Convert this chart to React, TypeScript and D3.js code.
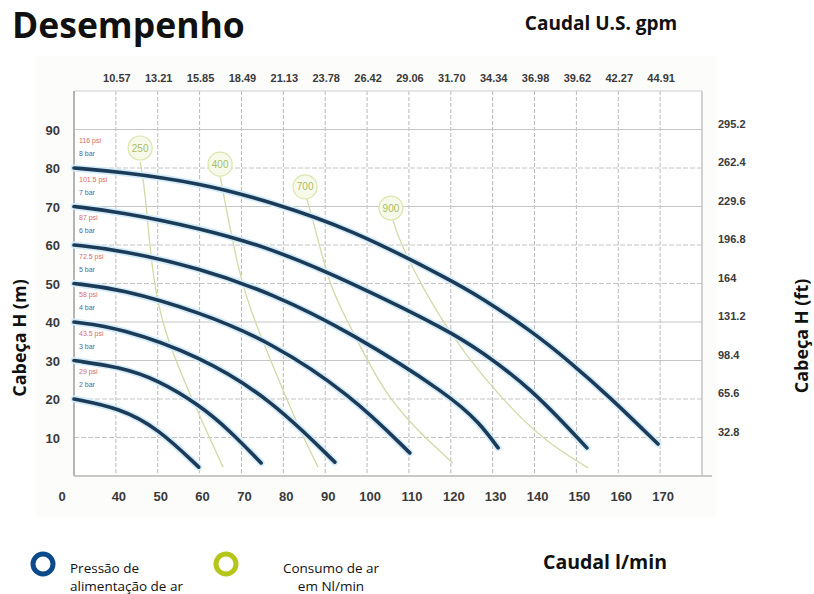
import * as d3 from "d3";
import { useRef, useEffect } from "react";

// flow (l/min) grid + labels
const flowTicks = [40, 50, 60, 70, 80, 90, 100, 110, 120, 130, 140, 150, 160, 170];
const gpmLabels = ["10.57", "13.21", "15.85", "18.49", "21.13", "23.78", "26.42", "29.06", "31.70", "34.34", "36.98", "39.62", "42.27", "44.91"];
const headTicks = [10, 20, 30, 40, 50, 60, 70, 80, 90];
const ftLabels = ["32.8", "65.6", "98.4", "131.2", "164", "196.8", "229.6", "262.4", "295.2"];
const dashedHeads = [10, 20, 50, 60, 80];

// pressure curves [flow, head]
const bar2 = [[30, 20], [41, 17.6], [50, 12.4], [59.8, 2.3]];
const bar3 = [[30, 30], [41, 28.3], [50, 25], [60, 18.4], [67, 12], [74.7, 3.4]];
const bar4 = [[30, 40], [41, 38.5], [60, 31.2], [77, 20], [92.3, 3.6]];
const bar5 = [[30, 50], [41, 48.6], [60, 42.6], [77, 34.8], [96, 21.2], [110.2, 6]];
const bar6 = [[30, 60], [41, 58.7], [60, 54], [77, 47.5], [96, 37.4], [120, 20.8], [127, 13.6], [131.3, 7.3]];
const bar7 = [[30, 70], [41, 68.6], [60, 64.4], [77, 59.2], [96, 50.4], [120, 37.5], [127, 32.5], [139, 23], [152.5, 7.3]];
const bar8 = [[30, 80], [41, 79], [60, 76.1], [77, 71.2], [96, 64.2], [120, 50.9], [127, 46.5], [139, 37.9], [148.5, 29.6], [158, 20.5], [169.5, 8.3]];
const barCurves = [bar2, bar3, bar4, bar5, bar6, bar7, bar8];
const barNames = ["2 bar", "3 bar", "4 bar", "5 bar", "6 bar", "7 bar", "8 bar"];
const psiNames = ["29 psi", "43.5 psi", "58 psi", "72.5 psi", "87 psi", "101.5 psi", "116 psi"];

// air consumption curves
const air250 = [[45.8, 81.6], [47, 74.3], [48.6, 52.7], [51.3, 37.9], [57.7, 21], [65.6, 2.3]];
const air400 = [[64.9, 77.9], [69.6, 50.9], [73.7, 38.7], [79.9, 22.3], [84, 11.9], [88.3, 2.3]];
const air700 = [[85.6, 72], [87.1, 66.5], [91.1, 49.1], [95.2, 40.5], [100, 30.1], [105.5, 19.7], [112.6, 11.2], [120.5, 3.4]];
const air900 = [[106.2, 66.5], [107.1, 63.1], [110.2, 55.3], [116.7, 42.3], [123.9, 30.9], [132.5, 19.7], [142, 9.4], [152.8, 2.1]];
const airCurves = [air250, air400, air700, air900];
const airNames = ["250", "400", "700", "900"];
const airLabelFlow = [45.8, 64.9, 85.2, 105.7];
const airLabelHead = [85.2, 81, 75.1, 69.6];

const W = 814;
const H = 594;

export default function App() {
  const svgRef = useRef<SVGSVGElement>(null);

  useEffect(() => {
    const svg = d3.select(svgRef.current);
    svg.selectAll("*").remove();

    const x = d3.scaleLinear().domain([30, 180]).range([74, 702]);
    const y = d3.scaleLinear().domain([0, 100]).range([476, 91]);
    const num = "'Liberation Sans', Arial, sans-serif";
    const title = "'Open Sans', 'Noto Sans', sans-serif";

    svg.append("rect").attr("x", 36).attr("y", 56).attr("width", 680).attr("height", 462).attr("fill", "#fcfcfb");
    svg.append("rect").attr("x", x(30)).attr("y", y(100)).attr("width", x(180) - x(30)).attr("height", y(0) - y(100)).attr("fill", "#fff");

    // grid
    const g = svg.append("g");
    g.selectAll(".vg").data(flowTicks).enter().append("line")
      .attr("x1", d => x(d)).attr("x2", d => x(d))
      .attr("y1", y(100)).attr("y2", y(0))
      .attr("stroke", "#b9b9b9").attr("stroke-width", 1).attr("stroke-dasharray", "4,2");
    g.selectAll(".hg").data(headTicks).enter().append("line")
      .attr("x1", x(30)).attr("x2", x(180))
      .attr("y1", d => y(d)).attr("y2", d => y(d))
      .attr("stroke", "#c6c6c6").attr("stroke-width", 1)
      .attr("stroke-dasharray", d => dashedHeads.includes(d) ? "5,2" : null);
    g.append("line").attr("x1", x(30)).attr("x2", x(180)).attr("y1", y(100)).attr("y2", y(100)).attr("stroke", "#cfcfcf");
    g.append("line").attr("x1", x(180)).attr("x2", x(180)).attr("y1", y(100)).attr("y2", y(0)).attr("stroke", "#c4c4c4").attr("stroke-width", 1.5);
    g.append("line").attr("x1", x(30)).attr("x2", x(30)).attr("y1", y(100)).attr("y2", y(0)).attr("stroke", "#b5b5b5").attr("stroke-width", 2);
    g.append("line").attr("x1", x(30)).attr("x2", x(180) + 10).attr("y1", y(0)).attr("y2", y(0)).attr("stroke", "#c8c8c8").attr("stroke-width", 2);

    // tick labels
    svg.selectAll(".bt").data(flowTicks).enter().append("text")
      .attr("x", d => x(d) + 3).attr("y", y(0) + 25)
      .attr("text-anchor", "middle").attr("font-family", num).attr("font-size", 13).attr("font-weight", "bold").attr("fill", "#3a3a3a")
      .text(d => d);
    svg.append("text").attr("x", 62).attr("y", y(0) + 25).attr("text-anchor", "middle")
      .attr("font-family", num).attr("font-size", 13).attr("font-weight", "bold").attr("fill", "#3a3a3a").text("0");
    svg.selectAll(".tt").data(flowTicks).enter().append("text")
      .attr("x", d => x(d) + 1).attr("y", 82)
      .attr("text-anchor", "middle").attr("font-family", num).attr("font-size", 11).attr("font-weight", "bold").attr("fill", "#3a3a3a")
      .text((d, i) => gpmLabels[i]);
    svg.selectAll(".lt").data(headTicks).enter().append("text")
      .attr("x", 60).attr("y", d => y(d) + 5)
      .attr("text-anchor", "end").attr("font-family", num).attr("font-size", 13).attr("font-weight", "bold").attr("fill", "#3a3a3a")
      .text(d => d);
    svg.selectAll(".rt").data(headTicks).enter().append("text")
      .attr("x", 718).attr("y", d => y(d) - 2)
      .attr("font-family", num).attr("font-size", 11).attr("font-weight", "bold").attr("fill", "#3a3a3a")
      .text((d, i) => ftLabels[i]);

    const line = d3.line<number[]>().x(d => x(d[0])).y(d => y(d[1])).curve(d3.curveBasis);

    // air consumption lines
    svg.selectAll(".air").data(airCurves).enter().append("path")
      .attr("d", d => line(d)).attr("fill", "none")
      .attr("stroke", "#d3d9a6").attr("stroke-width", 1.3);
    const lab = svg.selectAll(".al").data(airNames).enter().append("g")
      .attr("transform", (d, i) => `translate(${x(airLabelFlow[i])},${y(airLabelHead[i])})`);
    lab.append("circle").attr("r", 12).attr("fill", "#f7faea").attr("stroke", "#d9e6ac").attr("stroke-width", 1.2);
    lab.append("text").attr("text-anchor", "middle").attr("dy", "0.36em")
      .attr("font-family", num).attr("font-size", 10).attr("fill", "#a9bb66").text(d => d);

    // pressure curves
    svg.selectAll(".glow").data(barCurves).enter().append("path")
      .attr("d", d => line(d)).attr("fill", "none")
      .attr("stroke", "#d3ecf8").attr("stroke-width", 7).attr("stroke-linecap", "round");
    svg.selectAll(".bar").data(barCurves).enter().append("path")
      .attr("d", d => line(d)).attr("fill", "none")
      .attr("stroke", "#1c3b58").attr("stroke-width", 3.6).attr("stroke-linecap", "round");

    // pressure labels
    svg.selectAll(".psi").data(psiNames).enter().append("text")
      .attr("x", 79).attr("y", (d, i) => y(barCurves[i][0][1]) - 25)
      .attr("font-family", num).attr("font-size", 7).attr("fill", "#d86a6a").text(d => d);
    svg.selectAll(".barl").data(barNames).enter().append("text")
      .attr("x", 79).attr("y", (d, i) => y(barCurves[i][0][1]) - 12)
      .attr("font-family", num).attr("font-size", 7).attr("fill", "#4a6a96").text(d => d);

    // titles
    svg.append("text").attr("x", 12).attr("y", 38).attr("font-family", title).attr("font-weight", "bold")
      .attr("font-size", 35.5).attr("fill", "#111").text("Desempenho");
    svg.append("text").attr("x", 601).attr("y", 30).attr("text-anchor", "middle").attr("font-family", title).attr("font-weight", "bold")
      .attr("font-size", 19).attr("fill", "#111").text("Caudal U.S. gpm");
    svg.append("text").attr("x", 605).attr("y", 569).attr("text-anchor", "middle").attr("font-family", title).attr("font-weight", "bold")
      .attr("font-size", 19.5).attr("fill", "#111").text("Caudal l/min");
    svg.append("text").attr("transform", "translate(26,338) rotate(-90)").attr("text-anchor", "middle").attr("font-family", title)
      .attr("font-weight", "bold").attr("font-size", 18).attr("fill", "#111").text("Cabeça H (m)");
    svg.append("text").attr("transform", "translate(808,336) rotate(-90)").attr("text-anchor", "middle").attr("font-family", title)
      .attr("font-weight", "bold").attr("font-size", 18).attr("fill", "#111").text("Cabeça H (ft)");

    // legend
    svg.append("circle").attr("cx", 43).attr("cy", 564).attr("r", 10).attr("fill", "none").attr("stroke", "#0d4a8a").attr("stroke-width", 5);
    svg.append("text").attr("x", 70).attr("y", 573).attr("font-family", title).attr("font-size", 13.5).attr("fill", "#111").text("Pressão de");
    svg.append("text").attr("x", 70).attr("y", 591).attr("font-family", title).attr("font-size", 13.5).attr("fill", "#111").text("alimentação de ar");
    svg.append("circle").attr("cx", 226).attr("cy", 564).attr("r", 10).attr("fill", "none").attr("stroke", "#b5c51a").attr("stroke-width", 5);
    svg.append("text").attr("x", 331).attr("y", 573).attr("text-anchor", "middle").attr("font-family", title).attr("font-size", 13.5).attr("fill", "#111").text("Consumo de ar");
    svg.append("text").attr("x", 331).attr("y", 591).attr("text-anchor", "middle").attr("font-family", title).attr("font-size", 13.5).attr("fill", "#111").text("em Nl/min");
  }, []);

  return (
    <div style={{ position: "absolute", left: 0, top: 0 }}>
      <svg ref={svgRef} width={W} height={H} style={{ display: "block", background: "#fff" }}></svg>
    </div>
  );
}
